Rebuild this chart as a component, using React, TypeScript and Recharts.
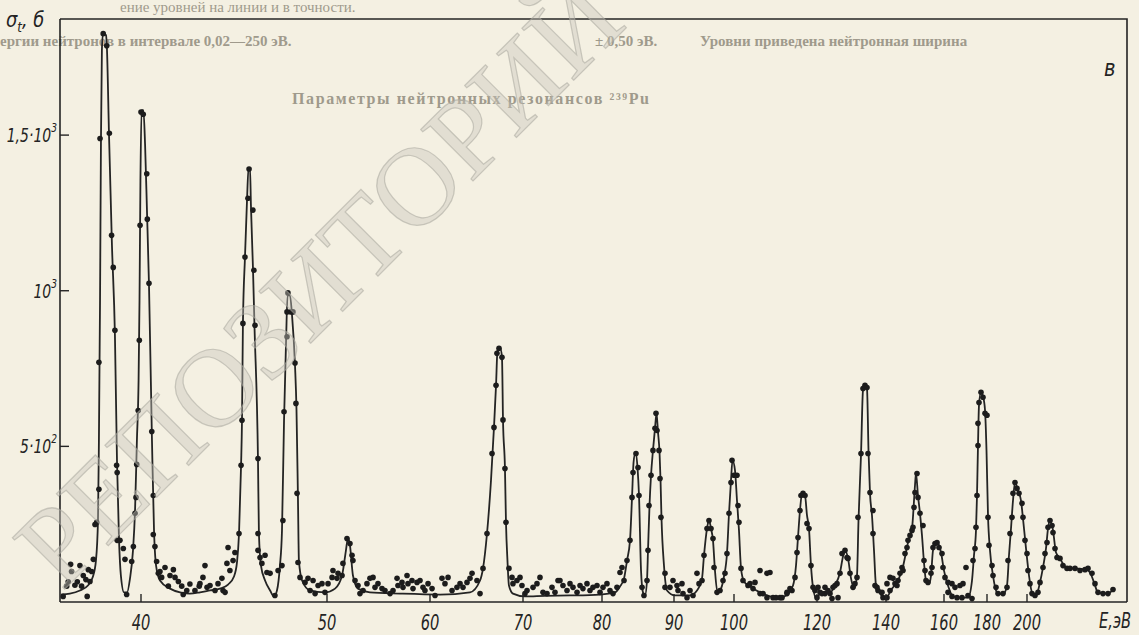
import React from 'react'
import { ComposedChart, Line, Scatter, XAxis, YAxis } from 'recharts'

// time-of-flight axis: energies (eV) and the analyser channel each one falls on
const axisEnergies = [35.65, 40, 50, 60, 70, 80, 90, 100, 120, 140, 160, 180, 200, 250]
const axisChannels = [0, 81, 267, 370, 463, 542, 614, 674, 757, 826, 884, 927, 967, 1067]
const xTickEnergies = [40, 50, 60, 70, 80, 90, 100, 120, 140, 160, 180, 200]
const yTicks = [500, 1000, 1500]
const yTickLabels = [['5·10', '2'], ['10', '3'], ['1,5·10', '3']]
const yMax = 1873

// fitted curve, sigma_t in barns
const curveE = [
  35.70, 36.18, 36.72, 37.15, 37.42, 37.58, 37.69, 37.74, 37.80, 37.85, 37.90, 37.96, 38.12, 38.17, 38.28, 38.44,
  38.60, 38.71, 38.82, 38.92, 39.09, 39.25, 39.41, 39.57, 39.68, 39.78, 39.87, 39.92, 39.97, 40.03, 40.13, 40.22,
  40.32, 40.43, 40.59, 40.70, 40.81, 41.02, 41.56, 42.10, 42.63, 43.17, 43.71, 44.25, 44.68, 45.00, 45.16, 45.27,
  45.38, 45.43, 45.48, 45.59, 45.70, 45.78, 45.86, 45.91, 46.02, 46.10, 46.29, 46.34, 46.45, 46.67, 46.94, 47.15,
  47.31, 47.47, 47.58, 47.69, 47.80, 47.88, 48.01, 48.12, 48.28, 48.36, 48.44, 48.49, 48.66, 49.09, 49.89, 50.78,
  51.46, 51.84, 52.04, 52.23, 52.52, 53.01, 54.17, 57.09, 61.08, 64.30, 65.38, 65.70, 66.13, 66.56, 66.88, 67.10,
  67.26, 67.53, 67.74, 67.85, 68.06, 68.17, 68.33, 68.49, 68.92, 70.25, 72.78, 75.95, 79.75, 81.81, 82.50, 83.06,
  83.47, 83.89, 84.17, 84.38, 84.65, 84.93, 85.14, 85.42, 85.69, 85.97, 86.25, 86.39, 86.60, 86.81, 87.08, 87.36,
  87.57, 87.78, 87.99, 88.13, 88.26, 88.61, 89.03, 90.17, 92.67, 93.83, 94.67, 95.00, 95.50, 95.83, 96.17, 96.50,
  96.83, 97.25, 97.83, 98.33, 98.83, 99.17, 99.50, 99.75, 100.24, 100.72, 101.20, 101.69, 102.41, 103.86, 106.27, 108.67,
  111.08, 113.01, 114.22, 114.94, 115.42, 115.90, 116.39, 117.11, 117.59, 118.07, 118.55, 119.04, 119.76, 121.45, 123.77, 125.22,
  126.67, 127.54, 128.12, 128.99, 129.86, 130.72, 131.59, 132.03, 132.75, 133.33, 133.91, 134.49, 134.93, 135.36, 135.94, 136.52,
  137.10, 138.26, 140.00, 142.07, 144.14, 145.86, 147.59, 148.97, 150.00, 150.34, 151.03, 151.72, 152.41, 153.10, 153.79, 154.83,
  155.52, 156.21, 157.24, 157.93, 158.97, 160.00, 161.86, 164.19, 167.44, 171.16, 173.02, 173.95, 174.88, 175.35, 175.81, 176.28,
  177.21, 178.14, 179.07, 179.77, 180.5, 181.5, 183, 185, 188, 190, 191, 192, 193, 194, 195.5, 197,
  198, 199.5, 201, 202.5, 204.5, 206.5, 208, 209.5, 210.5, 211.5, 213, 214.5, 216.5, 219.5, 224, 229.5,
  231.5, 233.5, 235.5, 240.5, 243,
]
const curveSigma = [
  24, 27, 37, 53, 82, 133, 262, 519, 969, 1484, 1773, 1827, 1821, 1779, 1506, 1146,
  857, 455, 198, 85, 31, 31, 76, 166, 294, 519, 712, 969, 1355, 1580, 1580, 1468,
  1259, 1018, 519, 230, 117, 69, 43, 31, 27, 31, 37, 43, 56, 82, 127, 220,
  439, 584, 895, 1108, 1291, 1394, 1394, 1275, 1072, 889, 455, 220, 117, 69, 37, 18,
  37, 117, 230, 584, 841, 985, 985, 921, 760, 617, 326, 133, 69, 37, 31, 43,
  85, 166, 207, 182, 85, 43, 31, 27, 24, 31, 69, 108, 220, 391, 561, 696,
  809, 818, 786, 585, 429, 256, 133, 53, 27, 18, 20, 21, 24, 31, 50, 76,
  133, 198, 336, 448, 481, 432, 342, 101, 31, 21, 69, 166, 310, 407, 487, 558,
  606, 545, 481, 391, 272, 117, 37, 21, 21, 37, 76, 150, 236, 262, 236, 198,
  101, 31, 43, 82, 156, 285, 391, 455, 423, 326, 230, 108, 66, 50, 31, 18,
  14, 27, 53, 117, 207, 294, 349, 342, 278, 236, 117, 47, 14, 31, 31, 53,
  95, 146, 166, 140, 76, 43, 85, 262, 471, 680, 699, 686, 487, 349, 278, 166,
  53, 27, 14, 43, 69, 114, 191, 236, 375, 413, 342, 285, 214, 127, 69, 59,
  85, 166, 191, 188, 159, 101, 53, 18, 14, 14, 69, 150, 230, 342, 503, 632,
  674, 661, 617, 487, 278, 166, 85, 31, 24, 53, 150, 236, 326, 384, 358, 326,
  268, 172, 85, 31, 21, 63, 111, 172, 236, 262, 230, 159, 140, 111, 108, 104,
  95, 63, 31, 27, 40,
]

// measured points
const pointE = [
  // 36-43 eV
  35.82, 36.01, 36.09, 36.22, 36.27, 36.45, 36.58, 36.72, 36.81, 36.90, 37.04, 37.11, 37.17, 37.26, 37.35, 37.44,
  37.53, 37.62, 37.74, 37.74, 37.80, 37.97, 38.16, 38.30, 38.42, 38.51, 38.60, 38.69, 38.72, 38.72, 38.87, 39.05,
  39.14, 39.23, 39.50, 39.59, 39.68, 39.73, 39.77, 39.85, 39.91, 39.95, 40.00, 40.12, 40.31, 40.34, 40.43, 40.58,
  40.66, 40.66, 40.75, 40.84, 40.93, 41.02, 41.11, 41.29, 41.47, 41.56, 41.74, 41.83, 42.01, 42.19, 42.27, 42.46,
  42.63, 42.90, 43.13,
  // 43-54 eV
  43.17, 43.33, 43.44, 43.55, 43.71, 43.98, 44.14, 44.35, 44.41, 44.52, 44.62, 44.68, 44.78, 44.95, 45.05, 45.27,
  45.38, 45.43, 45.48, 45.59, 45.75, 45.81, 46.02, 46.07, 46.13, 46.29, 46.29, 46.29, 46.40, 46.50, 46.67, 46.77,
  46.94, 47.20, 47.37, 47.58, 47.63, 47.69, 47.85, 47.85, 47.90, 48.06, 48.17, 48.28, 48.33, 48.39, 48.44, 48.55,
  48.82, 48.98, 49.09, 49.25, 49.36, 49.52, 49.73, 49.89, 50.10, 50.49, 50.58, 50.97, 51.07, 51.46, 51.55, 51.94,
  52.23, 52.43, 52.52, 52.72, 53.01, 53.20, 53.50, 53.88, 54.17,
  // 54-74 eV
  54.47, 54.66, 54.95, 55.34, 55.63, 56.12, 56.41, 56.80, 56.89, 57.28, 57.38, 57.77, 57.86, 58.25, 58.35, 58.74,
  59.03, 59.32, 59.51, 59.81, 60.22, 60.54, 61.29, 61.61, 61.94, 62.37, 62.90, 63.23, 63.55, 63.98, 64.30, 64.52,
  65.05, 65.38, 65.70, 66.13, 66.67, 66.88, 67.10, 67.20, 67.42, 67.74, 67.85, 68.06, 68.17, 68.49, 68.82, 68.92,
  69.35, 69.68, 69.89, 70.25, 70.51, 71.27, 71.77, 72.15, 72.53, 73.04, 73.67, 74.05, 74.43,
  // 74-100 eV
  74.68, 75.06, 75.57, 75.95, 76.33, 76.84, 77.22, 77.59, 78.10, 78.48, 78.86, 79.37, 79.75, 80.14, 80.69, 81.11,
  81.53, 82.08, 82.50, 82.78, 83.06, 83.47, 83.89, 84.17, 84.31, 84.72, 85.00, 85.14, 85.56, 85.83, 86.25, 86.39,
  86.53, 86.81, 87.08, 87.36, 87.50, 87.64, 87.92, 88.06, 88.19, 88.75, 88.75, 89.44, 89.86, 90.50, 90.67, 91.33,
  91.50, 92.17, 92.67, 93.17, 93.83, 94.17, 94.67, 95.00, 95.50, 95.83, 96.17, 96.50, 96.67, 97.17, 97.67, 98.17,
  98.50, 98.83, 99.17, 99.50, 99.67, 100.00,
  // 100-150 eV
  100.72, 100.96, 101.20, 101.69, 102.17, 103.37, 104.58, 106.27, 107.95, 109.40, 111.08, 112.77, 113.98, 114.70, 115.18, 115.42,
  115.90, 116.14, 116.63, 117.11, 117.59, 118.07, 118.55, 119.04, 120.00, 120.87, 122.32, 123.77, 124.64, 125.80, 126.67, 127.25,
  128.12, 128.70, 128.99, 129.57, 130.43, 131.01, 131.59, 131.88, 132.75, 133.33, 133.91, 134.49, 134.78, 135.36, 136.23, 136.23,
  136.81, 137.68, 139.13, 140.34, 141.38, 143.10, 144.14, 145.52, 146.55, 147.59, 148.97, 149.66, 150.00, 150.69,
  106.27, 107.95, 108.67, 103.86, 105.06, 106.99, 110.12, 111.57, 112.77, 113.49, 119.52, 120.29, 121.45, 122.32, 123.19, 124.35,
  125.22, 126.09, 137.39, 138.84, 140.34, 141.38, 142.41, 143.79, 144.83, 145.86, 147.24, 148.28, 149.31,
  // 150-245 eV
  151.03, 151.72, 152.76, 153.10, 153.45, 153.79, 154.48, 155.52, 155.86, 156.21, 156.90, 157.59, 158.28, 159.31, 159.66, 160.47,
  161.86, 163.72, 165.12, 167.44, 168.84, 170.23, 161.86, 163.72, 166.05, 168.37, 171.16, 173.02, 173.49, 174.42, 174.88, 175.35,
  175.81, 175.81, 176.28, 177.21, 178.14, 179.07, 180.00, 180.5, 181, 182.5, 183, 184.5, 185.5, 188, 190, 190.5,
  191.5, 192.5, 193, 194, 195, 196, 197.5, 198, 199, 200, 200.5, 201.5, 202.5, 204, 205.5, 206.5,
  208, 209, 210, 210.5, 211.5, 212.5, 213, 214, 215, 216.5, 218, 220, 221.5, 224, 226.5, 229,
  230.5, 232.5, 234, 235.5, 238, 240.5, 243,
]
const pointSigma = [
  // 36-43 eV
  18, 51, 65, 121, 98, 54, 65, 117, 51, 85, 72, 18, 104, 66, 98, 137,
  249, 256, 362, 770, 1489, 1826, 1787, 1506, 1178, 1075, 873, 439, 416, 198, 198, 172,
  137, 24, 130, 178, 285, 336, 442, 615, 841, 1210, 1574, 1567, 1376, 1230, 1024, 548,
  342, 217, 178, 130, 92, 98, 79, 111, 51, 85, 104, 79, 66, 51, 24, 37,
  58, 37, 51,
  // 43-54 eV
  59, 79, 117, 47, 53, 37, 59, 76, 37, 31, 124, 175, 101, 133, 159, 220,
  439, 584, 895, 1108, 1297, 1391, 1259, 1066, 889, 461, 220, 166, 143, 124, 150, 95,
  92, 21, 101, 117, 262, 611, 852, 932, 993, 932, 932, 768, 638, 349, 127, 79,
  63, 76, 37, 69, 27, 53, 59, 31, 59, 79, 101, 76, 92, 85, 124, 204,
  188, 150, 133, 69, 53, 27, 37, 59, 76,
  // 54-74 eV
  79, 47, 59, 43, 37, 27, 37, 76, 53, 63, 47, 85, 59, 69, 43, 63,
  69, 47, 37, 59, 43, 21, 76, 59, 79, 37, 47, 59, 47, 63, 76, 92,
  69, 27, 108, 220, 477, 561, 696, 799, 815, 786, 585, 429, 256, 108, 79, 59,
  69, 79, 53, 27, 37, 47, 59, 79, 31, 27, 47, 31, 69,
  // 74-100 eV
  69, 53, 37, 59, 47, 31, 53, 43, 59, 37, 47, 53, 31, 47, 59, 37,
  27, 47, 95, 111, 69, 133, 198, 336, 416, 477, 432, 342, 47, 21, 69, 166,
  310, 407, 487, 558, 606, 551, 487, 397, 272, 92, 47, 47, 69, 53, 37, 59,
  27, 14, 37, 21, 92, 59, 69, 150, 236, 262, 236, 204, 111, 31, 37, 69,
  92, 156, 285, 384, 455, 407,
  // 100-150 eV
  407, 310, 256, 108, 69, 53, 43, 27, 14, 14, 14, 27, 37, 79, 159, 207,
  294, 342, 349, 342, 252, 236, 117, 47, 14, 31, 27, 27, 47, 59, 92, 156,
  166, 143, 140, 92, 47, 59, 79, 272, 477, 686, 696, 689, 477, 352, 294, 220,
  53, 37, 14, 14, 37, 59, 69, 111, 156, 198, 230, 304, 352, 413,
  101, 92, 95, 59, 63, 27, 14, 14, 31, 43, 37, 47, 27, 47, 37, 11,
  53, 14, 47, 31, 59, 79, 76, 53, 92, 101, 175, 214, 240,
  // 150-245 eV
  336, 285, 246, 133, 101, 69, 63, 92, 111, 175, 188, 191, 175, 156, 111, 79,
  63, 59, 47, 53, 59, 111, 31, 18, 14, 14, 21, 11, 133, 172, 240, 342,
  503, 574, 641, 674, 658, 606, 600, 272, 182, 117, 85, 47, 27, 27, 47, 133,
  220, 272, 349, 384, 365, 349, 317, 272, 198, 156, 101, 59, 27, 21, 31, 63,
  111, 156, 191, 240, 262, 246, 223, 172, 143, 140, 117, 108, 108, 108, 101, 104,
  108, 92, 59, 31, 27, 27, 40,
]

const toChannel = (e: number) => {
  for (let i = 1; i < axisEnergies.length; i++) {
    if (e <= axisEnergies[i] || i === axisEnergies.length - 1) {
      const e0 = axisEnergies[i - 1]
      const e1 = axisEnergies[i]
      return axisChannels[i - 1] + ((e - e0) / (e1 - e0)) * (axisChannels[i] - axisChannels[i - 1])
    }
  }
  return 0
}

const curveRows = curveE.slice(0, Math.min(curveE.length, curveSigma.length)).map((e, i) => ({ ch: toChannel(e), sigma: curveSigma[i] }))
const pointRows = pointE.slice(0, Math.min(pointE.length, pointSigma.length)).map((e, i) => ({ ch: toChannel(e), sigma: pointSigma[i] }))
const xTickChannels = xTickEnergies.map(toChannel)
const channelMax = axisChannels[axisChannels.length - 1]

const W = 1139
const H = 635
const margin = { top: 19, right: 12, left: 0, bottom: 0 }
const yAxisWidth = 60
const xAxisHeight = 33

const ink = '#242424'
const font = '"DejaVu Sans", "Liberation Sans", sans-serif'
const paper = '#f4f0e2'
const squeeze = 0.7

const XTick = (props: any) => {
  const { x, y, payload } = props
  let idx = 0
  xTickChannels.forEach((c, i) => {
    if (Math.abs(c - payload.value) < Math.abs(xTickChannels[idx] - payload.value)) idx = i
  })
  return (
    <g>
      <line x1={x} y1={y} x2={x} y2={y - 8} stroke={ink} strokeWidth={1.4} />
      <text
        transform={`translate(${x},${y + 28}) scale(${squeeze},1)`}
        textAnchor="middle"
        fontFamily={font}
        fontStyle="italic"
        fontSize={21}
        fill={ink}
      >
        {xTickEnergies[idx]}
      </text>
    </g>
  )
}

const YTick = (props: any) => {
  const { x, y, payload } = props
  const idx = yTicks.indexOf(payload.value)
  const [main, sup] = yTickLabels[idx] || ['', '']
  return (
    <g>
      <line x1={x} y1={y} x2={x + 9} y2={y} stroke={ink} strokeWidth={1.4} />
      <text
        transform={`translate(${x - 3},${y + 7}) scale(${squeeze},1)`}
        textAnchor="end"
        fontFamily={font}
        fontStyle="italic"
        fontSize={20}
        fill={ink}
      >
        {main}
        <tspan dy={-10} fontSize={13}>{sup}</tspan>
      </text>
    </g>
  )
}

const Dot = (props: any) => <circle cx={props.cx} cy={props.cy} r={2.8} fill="#1c1c1c" />

export default function App() {
  const plotLeft = margin.left + yAxisWidth
  const plotTop = margin.top
  const plotRight = W - margin.right
  const plotBottom = H - margin.bottom - xAxisHeight
  return (
    <div style={{ position: 'fixed', left: 0, top: 0, width: W, height: H, background: paper, overflow: 'hidden' }}>
      <svg width={W} height={H} style={{ position: 'absolute', left: 0, top: 0 }}>
        <g fontFamily='"Liberation Serif", serif' fill="#9f9a8c" fontSize={15}>
          <text x={120} y={12}>ение уровней на линии и в точности.</text>
          <text x={0} y={46} fontWeight="bold">ергии нейтронов в интервале 0,02—250 эВ.</text>
          <text x={595} y={46} fontWeight="bold">± 0,50 эВ.</text>
          <text x={700} y={46} fontWeight="bold">Уровни приведена нейтронная ширина</text>
          <text x={292} y={104} fontWeight="bold" fontSize={16} letterSpacing={1.6}>
            Параметры нейтронных резонансов ²³⁹Pu
          </text>
        </g>
      </svg>
      <div style={{ position: 'absolute', left: 0, top: 0 }}>
        <ComposedChart width={W} height={H} margin={margin}>
          <XAxis
            type="number"
            dataKey="ch"
            domain={[0, channelMax]}
            ticks={xTickChannels}
            interval={0}
            height={xAxisHeight}
            tickSize={0}
            tickMargin={0}
            tickLine={false}
            tick={<XTick />}
            axisLine={{ stroke: ink, strokeWidth: 1.6 }}
            allowDataOverflow
          />
          <YAxis
            type="number"
            dataKey="sigma"
            domain={[0, yMax]}
            ticks={yTicks}
            interval={0}
            width={yAxisWidth}
            tickSize={0}
            tickMargin={0}
            tickLine={false}
            tick={<YTick />}
            axisLine={{ stroke: ink, strokeWidth: 1.6 }}
            allowDataOverflow
          />
          <Line
            data={curveRows}
            dataKey="sigma"
            type="monotone"
            stroke={ink}
            strokeWidth={1.8}
            dot={false}
            activeDot={false}
            isAnimationActive={false}
          />
          <Scatter data={pointRows} dataKey="sigma" shape={<Dot />} isAnimationActive={false} />
        </ComposedChart>
      </div>
      <svg width={W} height={H} style={{ position: 'absolute', left: 0, top: 0, pointerEvents: 'none' }}>
        {/* top and right edges of the plot frame */}
        <polyline
          points={`${plotLeft},${plotTop} ${plotRight},${plotTop} ${plotRight},${plotBottom}`}
          fill="none"
          stroke={ink}
          strokeWidth={1.6}
        />
        <text transform="translate(6,27) scale(0.85,1)" fontFamily={font} fontStyle="italic" fontSize={21} fill={ink}>
          σ<tspan dy={5} fontSize={14}>t</tspan>
          <tspan dy={-5}>, б</tspan>
        </text>
        <text transform="translate(1104,76) scale(0.85,1)" fontFamily={font} fontStyle="italic" fontSize={23} fill={ink}>в</text>
        <text
          transform={`translate(1115,628) scale(${squeeze},1)`}
          textAnchor="middle"
          fontFamily={font}
          fontStyle="italic"
          fontSize={21}
          fill={ink}
        >
          E,эВ
        </text>
        <text
          transform="translate(62,592) rotate(-45)"
          fontFamily='"Liberation Serif", serif'
          fontSize={112}
          fill="#c8c5bc"
          fillOpacity={0.42}
          stroke="#aaa79e"
          strokeOpacity={0.55}
          strokeWidth={1.2}
        >
          РЕПОЗИТОРИЙ
        </text>
      </svg>
    </div>
  )
}
